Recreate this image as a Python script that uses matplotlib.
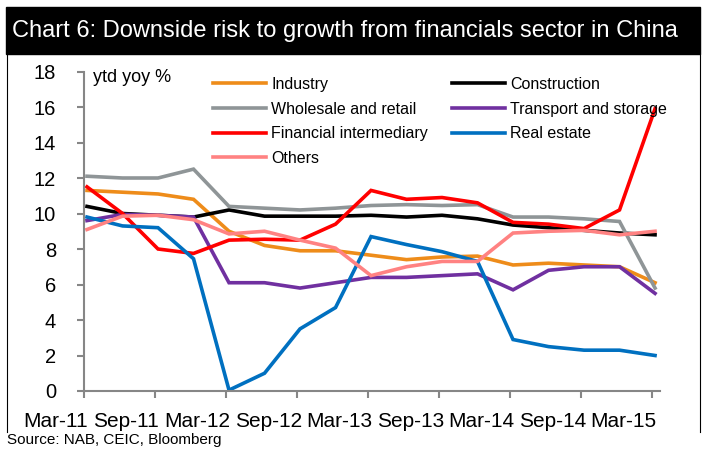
import numpy as np
import matplotlib
matplotlib.use("Agg")
import matplotlib.pyplot as plt
from matplotlib.patches import Rectangle
from matplotlib.lines import Line2D
from matplotlib.transforms import ScaledTranslation

plt.rcParams['font.family'] = ['Liberation Sans', 'DejaVu Sans']

# quarterly ytd yoy %, Mar-11 .. Mar-15
industry = [11.3, 11.2, 11.1, 10.8, 9.0, 8.2, 7.9, 7.9, 7.65, 7.4, 7.55, 7.6, 7.1, 7.2, 7.1, 7.0, 6.1]
construction = [10.4, 10.0, 9.9, 9.8, 10.2, 9.85, 9.85, 9.85, 9.9, 9.8, 9.9, 9.7, 9.35, 9.2, 9.05, 8.9, 8.8]
wholesale = [12.1, 12.0, 12.0, 12.5, 10.4, 10.3, 10.2, 10.3, 10.45, 10.5, 10.45, 10.5, 9.8, 9.8, 9.7, 9.55, 5.8]
transport = [9.6, 9.95, 9.9, 9.8, 6.1, 6.1, 5.8, 6.1, 6.4, 6.4, 6.5, 6.6, 5.7, 6.8, 7.0, 7.0, 5.5]
financial = [11.5, 10.0, 8.0, 7.75, 8.5, 8.55, 8.5, 9.4, 11.3, 10.8, 10.9, 10.6, 9.5, 9.4, 9.15, 10.2, 15.9]
real_estate = [9.8, 9.3, 9.2, 7.45, 0.05, 1.0, 3.5, 4.7, 8.7, 8.25, 7.85, 7.3, 2.9, 2.5, 2.3, 2.3, 2.0]
others = [9.1, 9.85, 9.9, 9.65, 8.85, 9.0, 8.5, 8.05, 6.5, 7.0, 7.3, 7.3, 8.9, 9.0, 9.05, 8.8, 9.0]

tick_labels = ['Mar-11', 'Sep-11', 'Mar-12', 'Sep-12', 'Mar-13',
               'Sep-13', 'Mar-14', 'Sep-14', 'Mar-15']

series = [
    ('Industry', industry, '#EE8C1A'),
    ('Construction', construction, '#000000'),
    ('Wholesale and retail', wholesale, '#8F9597'),
    ('Transport and storage', transport, '#7030A0'),
    ('Financial intermediary', financial, '#FF0000'),
    ('Real estate', real_estate, '#0070C0'),
    ('Others', others, '#FF8282'),
]

W, H = 708, 450
fig = plt.figure(figsize=(W / 100, H / 100), dpi=100)

# title bar and frame
fig.patches.append(Rectangle((6 / W, 1 - 54 / H), 694 / W, 47 / H,
                             transform=fig.transFigure, color='black', zorder=0))
fig.text(12 / W, 1 - 31 / H, 'Chart 6: Downside risk to growth from financials sector in China',
         color='white', fontsize=17, va='center', ha='left')
for xb in (6.5, 700):
    fig.add_artist(Line2D([xb / W, xb / W], [1 - 54 / H, 1 - 432 / H],
                          transform=fig.transFigure, color='black', lw=0.8))
fig.text(7 / W, 1 - 440 / H, 'Source: NAB, CEIC, Bloomberg', fontsize=11,
         va='center', ha='left')

ax = fig.add_axes([84 / W, 1 - 391 / H, 576 / W, 319.5 / H])
x = np.arange(len(industry))
handles = {}
for name, vals, col in series:
    ln, = ax.plot(x, vals, color=col, lw=2.6, label=name, solid_joinstyle='miter')
    handles[name] = ln

ax.set_ylim(0, 18)
ax.set_yticks(np.arange(0, 19, 2))
ax.set_xlim(-0.085, 16.14)
ax.set_xticks(np.arange(0, 17, 2) - 0.08)
ax.set_xticklabels(tick_labels)

for s in ('top', 'right'):
    ax.spines[s].set_visible(False)
for s in ('left', 'bottom'):
    ax.spines[s].set_color('#868686')
    ax.spines[s].set_linewidth(1.5)
ax.tick_params(axis='both', colors='#868686', width=1.5, length=5, labelcolor='black')
ax.tick_params(axis='x', labelsize=15, pad=10)
ax.tick_params(axis='y', labelsize=14.5, pad=15)
shift = ScaledTranslation(-29 / 100, 0, fig.dpi_scale_trans)
for lab in ax.get_xticklabels():
    lab.set_transform(lab.get_transform() + shift)

ax.text(93 / W, 1 - 78 / H, 'ytd yoy %', transform=fig.transFigure, fontsize=13,
        va='center', ha='left')

order = ['Industry', 'Wholesale and retail', 'Financial intermediary', 'Others',
         'Construction', 'Transport and storage', 'Real estate']
leg = fig.legend([handles[n] for n in order], order, ncol=2, loc='upper left',
                 bbox_to_anchor=(213 / W, 1 - 77 / H), frameon=False, fontsize=11.5,
                 handlelength=3.3, handletextpad=0.35, columnspacing=1.5,
                 labelspacing=0.6, borderpad=0, borderaxespad=0)

fig.savefig('out.png', dpi=100)
